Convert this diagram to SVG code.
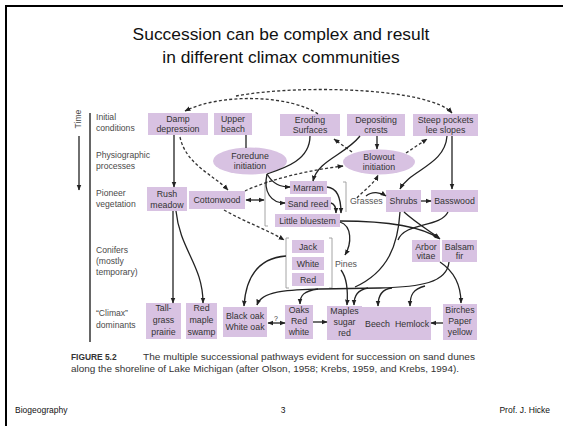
<svg xmlns="http://www.w3.org/2000/svg" width="563" height="426" viewBox="0 0 563 426">
<style>
  .title{font-family:"Liberation Sans",Arial,sans-serif;font-size:17.4px;fill:#111;text-anchor:middle}
  .foot{font-family:"Liberation Sans",Arial,sans-serif;font-size:8.5px;fill:#111}
  .lbl{font-family:"Liberation Sans",Arial,sans-serif;font-size:8.6px;fill:#4a4a4a}
  .bx rect{fill:#d8c2e2}
  .bx ellipse{fill:#d8c2e2}
  .bx text, .t{font-family:"Liberation Sans",Arial,sans-serif;font-size:8.8px;fill:#333;text-anchor:middle}
  .cap{font-family:"Liberation Sans",Arial,sans-serif;font-size:8.4px;fill:#333}
  .s{fill:none;stroke:#222;stroke-width:1.3}
  .d{fill:none;stroke:#333;stroke-width:1.3;stroke-dasharray:3 2.2}
  .br{fill:none;stroke:#9a9a9a;stroke-width:0.9}
</style>
<defs>
  <marker id="ah" viewBox="0 0 10 10" refX="9" refY="5" markerWidth="6" markerHeight="6" markerUnits="userSpaceOnUse" orient="auto-start-reverse">
    <path d="M0,1 L10,5 L0,9 z" fill="#222"/>
  </marker>
</defs>
<rect width="563" height="426" fill="#fff"/>
<!-- slide frame -->
<path d="M6,426 L6,6 L563,6" fill="none" stroke="#000" stroke-width="2"/>

<text class="title" x="281" y="40">Succession can be complex and result</text>
<text class="title" x="281" y="63">in different climax communities</text>

<!-- time axis and row labels -->
<g id="axis">
  <text class="lbl" transform="translate(81,119) rotate(-90)" text-anchor="middle">Time</text>
  <path class="s" d="M79,136 L79,190" marker-end="url(#ah)"/>
  <path d="M90,113 L90,342" stroke="#333" stroke-width="1.5"/>
  <text class="lbl" x="96" y="120">Initial</text>
  <text class="lbl" x="96" y="131">conditions</text>
  <text class="lbl" x="96" y="158">Physiographic</text>
  <text class="lbl" x="96" y="169">processes</text>
  <text class="lbl" x="96" y="196">Pioneer</text>
  <text class="lbl" x="96" y="207">vegetation</text>
  <text class="lbl" x="96" y="253">Conifers</text>
  <text class="lbl" x="96" y="264">(mostly</text>
  <text class="lbl" x="96" y="275">temporary)</text>
  <text class="lbl" x="96" y="316">“Climax”</text>
  <text class="lbl" x="96" y="328">dominants</text>
</g>

<!-- initial conditions -->
<g id="damp" class="bx"><rect x="148" y="113" width="60" height="22"/><text x="178" y="122">Damp</text><text x="178" y="132">depression</text></g>
<g id="upper" class="bx"><rect x="214" y="113" width="38" height="22"/><text x="233" y="122">Upper</text><text x="233" y="132">beach</text></g>
<g id="eroding" class="bx"><rect x="280" y="114" width="60" height="22"/><text x="310" y="123">Eroding</text><text x="310" y="133">Surfaces</text></g>
<g id="depositing" class="bx"><rect x="347" y="114" width="58" height="22"/><text x="376" y="123">Depositing</text><text x="376" y="133">crests</text></g>
<g id="steep" class="bx"><rect x="413" y="114" width="65" height="22"/><text x="445.500" y="123">Steep pockets</text><text x="445.500" y="133">lee slopes</text></g>

<!-- physiographic processes -->
<g id="foredune" class="bx"><ellipse cx="250" cy="161" rx="37" ry="13.500"/><text x="250" y="159">Foredune</text><text x="250" y="169">initiation</text></g>
<g id="blowout" class="bx"><ellipse cx="379" cy="162" rx="36" ry="12.500"/><text x="379" y="160">Blowout</text><text x="379" y="170">initiation</text></g>

<!-- pioneer vegetation -->
<g id="rush" class="bx"><rect x="147" y="187" width="40" height="24"/><text x="167" y="197">Rush</text><text x="167" y="208">meadow</text></g>
<g id="cottonwood" class="bx"><rect x="189" y="191" width="56" height="18"/><text x="217" y="203">Cottonwood</text></g>
<g id="marram" class="bx"><rect x="290" y="181" width="37" height="13"/><text x="308.500" y="191">Marram</text></g>
<g id="sandreed" class="bx"><rect x="285" y="197" width="46" height="13"/><text x="308" y="207">Sand reed</text></g>
<g id="bluestem" class="bx"><rect x="275" y="214" width="65" height="13"/><text x="307.500" y="224">Little bluestem</text></g>
<g id="grasses"><path class="br" d="M268,182 L265,182 L265,226 L268,226 M343,182 L346,182 L346,212"/><text class="t" x="350" y="204" style="text-anchor:start;fill:#555">Grasses</text></g>
<g id="shrubs" class="bx"><rect x="386" y="190" width="35" height="22"/><text x="403.500" y="204">Shrubs</text></g>
<g id="basswood" class="bx"><rect x="431" y="190" width="47" height="22"/><text x="454.500" y="204">Basswood</text></g>

<!-- conifers -->
<g id="jack" class="bx"><rect x="292" y="240" width="32" height="13"/><text x="308" y="250">Jack</text></g>
<g id="white" class="bx"><rect x="292" y="257" width="32" height="13"/><text x="308" y="267">White</text></g>
<g id="red" class="bx"><rect x="292" y="273" width="32" height="13"/><text x="308" y="283">Red</text></g>
<g id="pines"><path class="br" d="M289,238 L286,238 L286,288 L289,288 M329,238 L332,238 L332,288 L329,288"/><text class="t" x="335" y="267" style="text-anchor:start;fill:#555">Pines</text></g>
<g id="arbor" class="bx"><rect x="412" y="240" width="28" height="22"/><text x="426" y="250">Arbor</text><text x="426" y="259">vitae</text></g>
<g id="balsam" class="bx"><rect x="442" y="240" width="35" height="22"/><text x="459.500" y="250">Balsam</text><text x="459.500" y="259">fir</text></g>

<!-- climax dominants -->
<g id="tallgrass" class="bx"><rect x="146" y="303" width="35" height="36"/><text x="163.500" y="311">Tall-</text><text x="163.500" y="323">grass</text><text x="163.500" y="335">prairie</text></g>
<g id="redmaple" class="bx"><rect x="186" y="303" width="31" height="36"/><text x="201.500" y="311">Red</text><text x="201.500" y="323">maple</text><text x="201.500" y="335">swamp</text></g>
<g id="blackoak" class="bx"><rect x="223" y="307" width="44" height="30"/><text x="245" y="319">Black oak</text><text x="245" y="330">White oak</text></g>
<g id="oaks" class="bx"><rect x="285" y="305" width="28" height="34"/><text x="299" y="313">Oaks</text><text x="299" y="324">Red</text><text x="299" y="335">white</text></g>
<g id="maples" class="bx"><rect x="327" y="306" width="35" height="34"/><text x="344.500" y="314">Maples</text><text x="344.500" y="325">sugar</text><text x="344.500" y="336">red</text></g>
<g id="beech" class="bx"><rect x="362" y="307" width="31" height="33"/><text x="377.500" y="327">Beech</text></g>
<g id="hemlock" class="bx"><rect x="393" y="307" width="38" height="33"/><text x="412" y="327">Hemlock</text></g>
<g id="birches" class="bx"><rect x="443" y="304" width="34" height="36"/><text x="460" y="313">Birches</text><text x="460" y="324">Paper</text><text x="460" y="335">yellow</text></g>

<g id="connectors">
  <!-- dashed pathways -->
  <path class="d" d="M318,114 C292,96 224,92 185,111" marker-end="url(#ah)"/>
  <path class="d" d="M236,96 C300,84 430,88 452,113" marker-end="url(#ah)"/>
  <path class="d" d="M180,137 C186,165 214,175 228,190" marker-end="url(#ah)"/>
  <path class="d" d="M245,191 C270,179 310,170 343,166" marker-end="url(#ah)"/>
  <path class="d" d="M352,152 L334,139" marker-end="url(#ah)"/>
  <path class="d" d="M406,153 L427,139" marker-end="url(#ah)"/>
  <path class="d" d="M357,198 C364,190 374,184 378,175" marker-end="url(#ah)"/>
  <path class="d" d="M224,210 C245,222 268,230 284,240" marker-end="url(#ah)"/>

  <!-- solid pathways -->
  <path class="s" d="M246,135 L246,148"/>
  <path class="s" d="M174,135 L174,187" marker-end="url(#ah)"/>
  <path class="s" d="M377,136 L377,149" marker-end="url(#ah)"/>
  <path class="s" d="M310,136 C310,160 285,168 267,174"/>
  <path class="s" d="M267,174 C273,184 280,187 290,187" marker-end="url(#ah)"/>
  <path class="s" d="M267,174 C263,192 271,203 285,203" marker-end="url(#ah)"/>
  <path class="s" d="M360,136 C345,155 318,160 313,181" marker-end="url(#ah)"/>
  <path class="s" d="M246,200 L264,200" marker-start="url(#ah)" marker-end="url(#ah)"/>
  <path class="s" d="M327,187 C338,188 341,200 341,213" marker-end="url(#ah)"/>
  <path class="s" d="M331,203 C335,204 336,208 336,213" marker-end="url(#ah)"/>
  <path class="s" d="M366,196 C372,191 380,192 386,196" marker-end="url(#ah)"/>
  <path class="s" d="M421,201 L431,201" marker-end="url(#ah)"/>
  <path class="s" d="M447,136 C445,165 410,170 400,189" marker-end="url(#ah)"/>
  <path class="s" d="M452,136 L452,189" marker-end="url(#ah)"/>
  <path class="s" d="M340,222 C352,226 352,243 345,255" marker-end="url(#ah)"/>
  <path class="s" d="M340,221 C380,221 420,225 440,239" marker-end="url(#ah)"/>
  <path class="s" d="M404,212 C415,222 428,230 439,238" marker-end="url(#ah)"/>
  <path class="s" d="M400,212 C398,245 388,272 355,287"/>
  <path class="s" d="M448,212 C440,228 405,222 398,240"/>
  <path class="s" d="M449,262 C447,283 420,287 380,288 L320,289 C290,290 262,290 257,305" marker-end="url(#ah)"/>
  <path class="s" d="M318,289 C304,291 300,295 300,304" marker-end="url(#ah)"/>
  <path class="s" d="M368,288 C358,290 354,295 354,305" marker-end="url(#ah)"/>
  <path class="s" d="M392,288 C382,289 378,295 378,306" marker-end="url(#ah)"/>
  <path class="s" d="M425,286 C413,289 410,295 410,306" marker-end="url(#ah)"/>
  <path class="s" d="M440,262 C455,272 461,285 461,303" marker-end="url(#ah)"/>
  <path class="s" d="M341,270 C347,278 348,292 347,305" marker-end="url(#ah)"/>
  <path class="s" d="M286,256 C260,258 246,275 244,306" marker-end="url(#ah)"/>
  <path class="s" d="M173,211 L173,303" marker-end="url(#ah)"/>
  <path class="s" d="M176,211 C180,250 203,265 203,303" marker-end="url(#ah)"/>
  <path class="s" d="M268,323 L285,323" marker-start="url(#ah)" marker-end="url(#ah)"/>
  <text class="t" x="276" y="321" style="font-size:7px">?</text>
  <path class="s" d="M313,322 L327,322" marker-end="url(#ah)"/>
  <path class="s" d="M443,323 L431,323" marker-end="url(#ah)"/>
</g>

<!-- caption -->
<text class="cap" x="71" y="360"><tspan font-weight="bold">FIGURE 5.2</tspan></text>
<text class="cap" x="143" y="360" textLength="332" lengthAdjust="spacingAndGlyphs">The multiple successional pathways evident for succession on sand dunes</text>
<text class="cap" x="71" y="372" textLength="388" lengthAdjust="spacingAndGlyphs">along the shoreline of Lake Michigan (after Olson, 1958; Krebs, 1959, and Krebs, 1994).</text>

<!-- footer -->
<text class="foot" x="15" y="413">Biogeography</text>
<text class="foot" x="283" y="413" text-anchor="middle">3</text>
<text class="foot" x="550" y="413" text-anchor="end">Prof. J. Hicke</text>
</svg>
